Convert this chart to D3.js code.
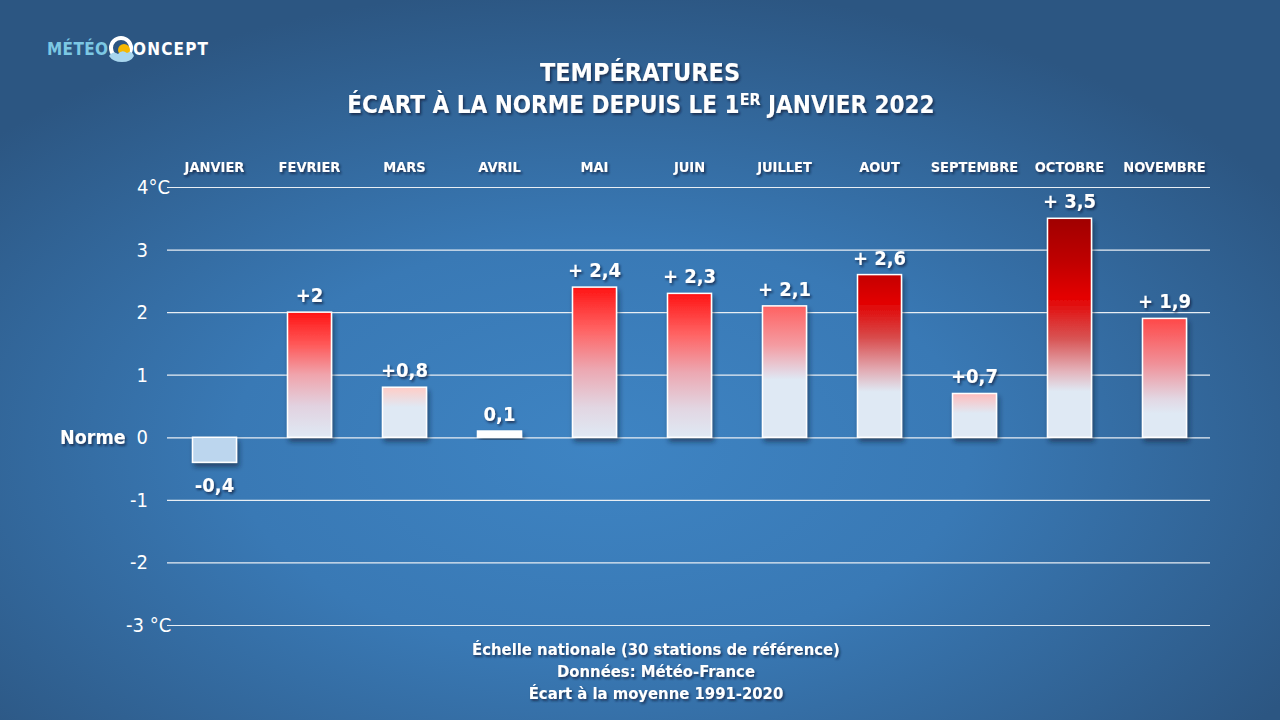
<!DOCTYPE html>
<html><head><meta charset="utf-8">
<script src="https://cdn.jsdelivr.net/npm/d3@7"></script>
<style>
html,body{margin:0;padding:0;background:#2f5f8e;}
svg{display:block;}
text{font-family:"DejaVu Sans Condensed","DejaVu Sans",sans-serif;fill:#fff;}
</style></head>
<body><svg id="c" width="1280" height="720"></svg>
<script>
// ---- data ----
const months = ["JANVIER","FEVRIER","MARS","AVRIL","MAI","JUIN","JUILLET","AOUT","SEPTEMBRE","OCTOBRE","NOVEMBRE"];
const anomalies = [-0.4, 2, 0.8, 0.1, 2.4, 2.3, 2.1, 2.6, 0.7, 3.5, 1.9];
const valueLabels = ["-0,4","+2","+0,8","0,1","+ 2,4","+ 2,3","+ 2,1","+ 2,6","+0,7","+ 3,5","+ 1,9"];
const yTicks = [-3,-2,-1,0,1,2,3,4];
const yTickLabels = ["-3 °C","-2","-1","0","1","2","3","4°C"];
const footerLines = ["Échelle nationale (30 stations de référence)","Données: Météo-France","Écart à la moyenne 1991-2020"];

// ---- styles (per bar gradients, top -> bottom) ----
const L = "#dfe9f4";
const barStops = [
  [[0,"#bcd6ee"],[1,"#bcd6ee"]],
  [[0,"#ff1414"],[0.25,"#ff5656"],[0.5,"#f0a4ac"],[0.75,"#e2d2e0"],[1,L]],
  [[0,"#ffccc6"],[0.4,L],[1,L]],
  [[0,"#ffffff"],[1,"#ffffff"]],
  [[0,"#ff1414"],[0.28,"#ff6262"],[0.55,"#eca8b2"],[0.8,"#e2d6e2"],[1,L]],
  [[0,"#ff1414"],[0.28,"#ff6262"],[0.55,"#eca8b2"],[0.8,"#e2d6e2"],[1,L]],
  [[0,"#ff6262"],[0.3,"#f49ca2"],[0.5,"#e4d6e2"],[0.56,L],[1,L]],
  [[0,"#c40000"],[0.17,"#e20000"],[0.38,"#d84848"],[0.58,"#e2a8b0"],[0.72,L],[1,L]],
  [[0,"#ffbcbc"],[0.45,L],[1,L]],
  [[0,"#a00000"],[0.2,"#c00000"],[0.36,"#e40000"],[0.55,"#d85454"],[0.7,"#e4b4bc"],[0.79,L],[1,L]],
  [[0,"#ff4848"],[0.38,"#f09098"],[0.68,"#e2d8e4"],[0.8,L],[1,L]]
];

const svg = d3.select("#c");
const defs = svg.append("defs");

// background radial gradient
const bg = defs.append("radialGradient").attr("id","bg").attr("cx","0.47").attr("cy","0.62").attr("r","0.64");
bg.append("stop").attr("offset","0").attr("stop-color","#3e84c3");
bg.append("stop").attr("offset","0.45").attr("stop-color","#3979b5");
bg.append("stop").attr("offset","1").attr("stop-color","#2c5682");
svg.append("rect").attr("width",1280).attr("height",720).attr("fill","url(#bg)");

// shadows
const sh = defs.append("filter").attr("id","ts").attr("x","-20%").attr("y","-20%").attr("width","140%").attr("height","160%");
sh.append("feDropShadow").attr("dx",1.5).attr("dy",2).attr("stdDeviation",1).attr("flood-color","#0a1f38").attr("flood-opacity",0.7);
const bs = defs.append("filter").attr("id","bs").attr("x","-20%").attr("y","-20%").attr("width","140%").attr("height","160%");
bs.append("feDropShadow").attr("dx",2).attr("dy",4).attr("stdDeviation",2.5).attr("flood-color","#0a1f38").attr("flood-opacity",0.55);

barStops.forEach((st,i)=>{
  const g = defs.append("linearGradient").attr("id","g"+i).attr("x1",0).attr("y1",0).attr("x2",0).attr("y2",1);
  st.forEach(s=>g.append("stop").attr("offset",s[0]).attr("stop-color",s[1]));
});

// scales
const x = d3.scaleBand().domain(months).range([167,1212]).paddingInner(0.537).paddingOuter(0.2685);
const y = d3.scaleLinear().domain([-3,4]).range([625,187]);

// gridlines via axis
const grid = svg.append("g").attr("transform","translate(167,0)")
  .call(d3.axisLeft(y).tickValues(yTicks).tickSize(-1043).tickFormat(""));
grid.select(".domain").remove();
grid.selectAll(".tick line").attr("stroke","#e8eef4").attr("stroke-width",1.2);

// y labels
const yl = svg.append("g");
yTicks.forEach((t,i)=>{
  const lab = yTickLabels[i];
  const xx = (t===4) ? 137 : (t===-3 ? 126 : 148);
  yl.append("text").attr("x",xx).attr("y",y(t)+7)
    .attr("text-anchor", (t===4||t===-3) ? "start" : "end")
    .attr("font-size",20).text(lab);
});
svg.append("text").attr("x",60).attr("y",y(0)+7).attr("font-size",19.5).attr("font-weight","bold")
  .attr("filter","url(#ts)").text("Norme");

// month labels
svg.append("g").selectAll("text").data(months).join("text")
  .attr("x",d=>x(d)+x.bandwidth()/2).attr("y",172).attr("text-anchor","middle")
  .attr("font-size",14.5).attr("font-weight","bold").attr("filter","url(#ts)").text(d=>d);

// bars
svg.append("g").selectAll("rect").data(anomalies).join("rect")
  .attr("x",(d,i)=>x(months[i]))
  .attr("y",d=>y(Math.max(0,d)))
  .attr("width",x.bandwidth())
  .attr("height",d=>Math.abs(y(d)-y(0)))
  .attr("fill",(d,i)=>"url(#g"+i+")")
  .attr("stroke","#ffffff").attr("stroke-width",1.5)
  .attr("filter","url(#bs)");

// value labels
svg.append("g").selectAll("text").data(anomalies).join("text")
  .attr("x",(d,i)=>x(months[i])+x.bandwidth()/2)
  .attr("y",d=> d<0 ? y(d)+30 : y(d)-10)
  .attr("text-anchor","middle").attr("font-size",20).attr("font-weight","bold")
  .attr("filter","url(#ts)")
  .text((d,i)=>valueLabels[i]);

// title
const title = svg.append("g").attr("filter","url(#ts)");
title.append("text").attr("x",640).attr("y",81).attr("text-anchor","middle")
  .attr("font-size",25).attr("font-weight","bold").text("TEMPÉRATURES");
const t2 = title.append("text").attr("x",641).attr("y",113).attr("text-anchor","middle")
  .attr("font-size",24).attr("font-weight","bold");
t2.append("tspan").text("ÉCART À LA NORME DEPUIS LE 1");
t2.append("tspan").attr("font-size",16).attr("dy",-8).text("ER");
t2.append("tspan").attr("dy",8).text(" JANVIER 2022");

// footer
svg.append("g").attr("filter","url(#ts)").selectAll("text").data(footerLines).join("text")
  .attr("x",656).attr("y",(d,i)=>655+i*22).attr("text-anchor","middle")
  .attr("font-size",16.5).attr("font-weight","bold").text(d=>d);

// logo
const logo = svg.append("g");
logo.append("text").attr("x",47).attr("y",55).attr("font-size",17).attr("font-weight","bold")
  .attr("textLength",61).style("fill","#7cc8e4").text("MÉTÉO");
logo.append("circle").attr("cx",121).attr("cy",48).attr("r",10).attr("fill","none")
  .attr("stroke","#ffffff").attr("stroke-width",4);
logo.append("circle").attr("cx",124).attr("cy",50).attr("r",6).attr("fill","#f5b800");
logo.append("path").attr("d","M109,56 q4,-6 9,-2 q4,-5 9,-1 q5,-3 7,3 q-3,6 -12,6 q-9,0 -13,-6z").attr("fill","#a8d6ee");
logo.append("text").attr("x",133).attr("y",55).attr("font-size",17).attr("font-weight","bold")
  .attr("textLength",75).text("ONCEPT");
</script></body></html>
